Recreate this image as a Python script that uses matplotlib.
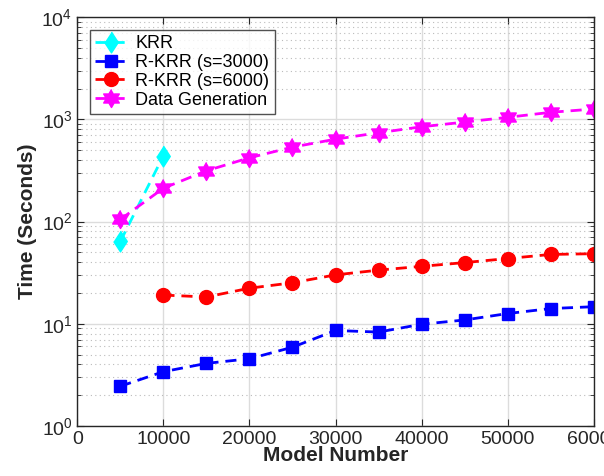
import numpy as np
import matplotlib
matplotlib.use('Agg')
import matplotlib.pyplot as plt

plt.rcParams['font.family'] = ['Liberation Sans', 'DejaVu Sans']

# data
n_krr = [5000, 10000]
t_krr = [64, 440]

n_all = [5000, 10000, 15000, 20000, 25000, 30000, 35000, 40000, 45000, 50000, 55000, 60000]
t_s3000 = [2.45, 3.4, 4.1, 4.55, 5.9, 8.6, 8.3, 9.9, 10.9, 12.6, 14.1, 14.7]

n_s6000 = [10000, 15000, 20000, 25000, 30000, 35000, 40000, 45000, 50000, 55000, 60000]
t_s6000 = [19.1, 18.3, 22.3, 25.2, 30.1, 33.5, 36.5, 39.7, 43.5, 47.7, 48.5]

t_gen = [105, 212, 314, 421, 535, 640, 740, 846, 941, 1047, 1172, 1262]

x_ticks = [0, 10000, 20000, 30000, 40000, 50000, 60000]

# six-pointed star (hexagram) marker
ang = np.pi / 2 + np.arange(12) * np.pi / 6
rad = np.where(np.arange(12) % 2 == 0, 1.0, 0.577)
hexagram = list(zip(rad * np.cos(ang), rad * np.sin(ang)))

# MATLAB style diamond, a bit taller than wide
diamond = [(0, 1), (0.65, 0), (0, -1), (-0.65, 0)]

fig = plt.figure(figsize=(6.04, 4.76), dpi=100)
ax = fig.add_axes([0.128, 0.105, 0.855, 0.859])

dash = (0, (4, 2.5))
ax.plot(n_krr, t_krr, color='cyan', ls=dash, lw=2, marker=diamond, ms=15, label='KRR')
ax.plot(n_all, t_s3000, color='blue', ls=dash, lw=2, marker='s', ms=9, label='R-KRR (s=3000)')
ax.plot(n_s6000, t_s6000, color='red', ls=dash, lw=2, marker='o', ms=10, label='R-KRR (s=6000)')
ax.plot(n_all, t_gen, color='magenta', ls=dash, lw=2, marker=hexagram, ms=13, label='Data Generation')

ax.set_yscale('log')
ax.set_xlim(0, 60000)
ax.set_ylim(1, 1e4)
ax.set_xticks(x_ticks)
ax.set_xticklabels([str(v) for v in x_ticks])

ax.grid(True, which='major', color='#dcdcdc', lw=1)
ax.grid(True, which='minor', axis='y', color='#bbbbbb', ls=(0, (1, 3)), lw=0.8)
ax.set_axisbelow(True)

ax.tick_params(which='both', direction='in', top=True, right=True, labelsize=14, colors='#262626')
ax.tick_params(which='major', length=5)
ax.tick_params(which='minor', length=3)
ax.tick_params(axis='x', which='minor', bottom=False, top=False)
for s in ax.spines.values():
    s.set_color('#262626')
    s.set_linewidth(1)

ax.set_xlabel('Model Number', fontsize=15, fontweight='bold', labelpad=-1, color='#262626')
ax.set_ylabel('Time (Seconds)', fontsize=15, fontweight='bold', labelpad=3, color='#262626')

leg = ax.legend(loc='upper left', fontsize=13, frameon=True, fancybox=False, edgecolor='#262626',
                borderpad=0.3, labelspacing=0.1, handlelength=1.7, handletextpad=0.5,
                borderaxespad=0.7, markerscale=1.0)
leg.get_frame().set_linewidth(1)

fig.savefig('out.png', dpi=100)
